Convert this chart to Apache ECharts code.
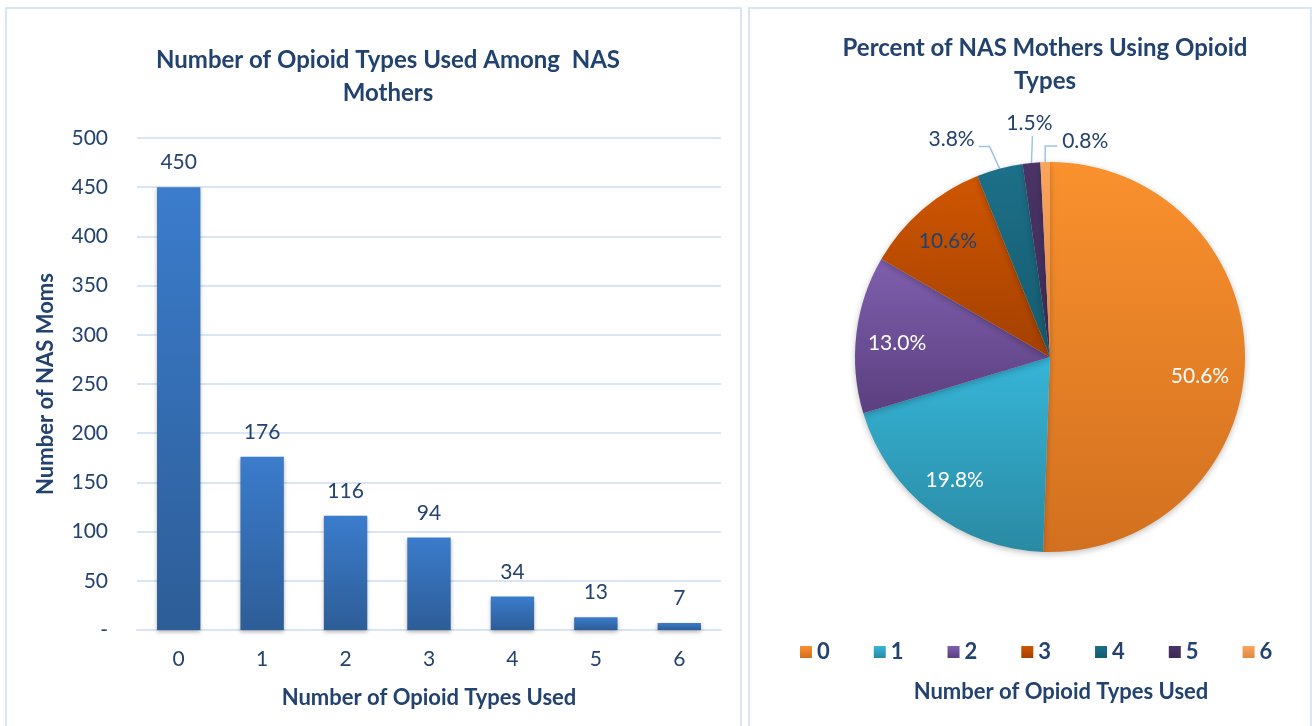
<!DOCTYPE html>
<html>
<head>
<meta charset="utf-8">
<script src="https://cdn.jsdelivr.net/npm/echarts@6/dist/echarts.min.js"></script>
<style>
html,body{margin:0;padding:0;background:#fff;}
#c{width:1312px;height:726px;}
</style>
</head>
<body>
<div id="c"></div>
<script>
// ---- data ----
const categories = ['0', '1', '2', '3', '4', '5', '6'];
const counts = [450, 176, 116, 94, 34, 13, 7];
const barTitle = 'Number of Opioid Types Used Among  NAS\nMothers';
const pieTitle = 'Percent of NAS Mothers Using Opioid\nTypes';
const xName = 'Number of Opioid Types Used';
const yName = 'Number of NAS Moms';
const pieColorsTop = ['#fa912e', '#36b5d8', '#7f5fae', '#cf5600', '#1c7089', '#4a3468', '#fba45c'];
const pieColorsBottom = ['#d2701f', '#2a8aa3', '#5b3f7f', '#a34000', '#165a6d', '#3d2a55', '#de8a45'];
const insideLabelColors = ['#ffffff', '#ffffff', '#ffffff', '#22426f'];

const NAVY = '#22426f';
const FONT = 'Lato, "Open Sans", sans-serif';
const GRID_LINE = '#d9e4f4';

function grad(top, bottom) {
  return new echarts.graphic.LinearGradient(0, 0, 0, 1, [
    { offset: 0, color: top }, { offset: 1, color: bottom }
  ]);
}

const pieCenter = [1050, 357];
const pieR = 195;

// label offsets (relative to slice edge point) for the small outside slices
const outsideStyle = {
  4: { line: [[-10, -22], [-21, -22]], text: [-25, -29], align: 'right' },
  5: { line: [[1, -27], [1, -27]], text: [-2, -40], align: 'center' },
  6: { line: [[0, -16], [12, -16]], text: [17, -21], align: 'left' }
};
// small nudges of inside labels
const insideLabelOffsets = [[-6, 16], [0, 0], [2, 4], [0, 2]];

const pieData = categories.map((c, i) => ({
  name: c,
  value: counts[i],
  itemStyle: { color: grad(pieColorsTop[i], pieColorsBottom[i]) },
  label: { show: i >= 4 },
  labelLine: { show: i >= 4 }
}));

const pieLabelData = categories.map((c, i) => ({
  name: c,
  value: counts[i],
  label: { show: i < 4, color: insideLabelColors[i] || NAVY, offset: insideLabelOffsets[i] || [0, 0] }
}));

const chart = echarts.init(document.getElementById('c'), null, { renderer: 'canvas' });

const option = {
  backgroundColor: '#ffffff',
  animation: false,
  textStyle: { fontFamily: FONT },
  graphic: [
    { type: 'rect', shape: { x: 6, y: 8, width: 735, height: 740 }, style: { fill: 'none', stroke: GRID_LINE, lineWidth: 2 }, silent: true },
    { type: 'rect', shape: { x: 749, y: 8, width: 562, height: 740 }, style: { fill: 'none', stroke: GRID_LINE, lineWidth: 2 }, silent: true }
  ],
  title: [
    {
      text: barTitle, left: 383, top: 39, textAlign: 'center',
      textStyle: { fontFamily: FONT, fontSize: 24, fontWeight: 'bold', color: NAVY, lineHeight: 33 }
    },
    {
      text: pieTitle, left: 1040, top: 27, textAlign: 'center',
      textStyle: { fontFamily: FONT, fontSize: 24, fontWeight: 'bold', color: NAVY, lineHeight: 33 }
    },
    {
      text: xName, left: 1056, top: 676, textAlign: 'center',
      textStyle: { fontFamily: FONT, fontSize: 22, fontWeight: 'bold', color: NAVY }
    }
  ],
  legend: {
    data: categories,
    left: 795, top: 636,
    icon: 'rect', itemWidth: 12, itemHeight: 12, itemGap: 44,
    textStyle: { fontFamily: FONT, fontSize: 22, fontWeight: 'bold', color: NAVY, padding: [0, 0, 0, 0] }
  },
  grid: { left: 137, right: 591, top: 138, bottom: 96 },
  xAxis: {
    type: 'category',
    data: categories,
    axisLine: { lineStyle: { color: GRID_LINE, width: 2 } },
    axisTick: { show: false },
    axisLabel: { color: NAVY, fontSize: 21, margin: 19, fontFamily: FONT },
    name: xName, nameLocation: 'middle', nameGap: 57,
    nameTextStyle: { color: NAVY, fontSize: 22, fontWeight: 'bold', fontFamily: FONT }
  },
  yAxis: {
    type: 'value', min: 0, max: 500, interval: 50,
    axisLine: { show: false }, axisTick: { show: false },
    splitLine: { lineStyle: { color: GRID_LINE, width: 2 } },
    axisLabel: {
      color: NAVY, fontSize: 21, margin: 29, fontFamily: FONT,
      formatter: v => (v === 0 ? '-' : String(v))
    },
    name: yName, nameLocation: 'middle', nameGap: 80, nameRotate: 90,
    nameTextStyle: { color: NAVY, fontSize: 22, fontWeight: 'bold', fontFamily: FONT }
  },
  series: [
    {
      type: 'bar',
      data: counts,
      barWidth: '52%',
      itemStyle: {
        color: grad('#3b7ccc', '#2d5d97'),
        shadowColor: 'rgba(0,0,0,0.3)', shadowBlur: 4, shadowOffsetY: 2
      },
      label: { show: true, position: 'top', distance: 14, color: NAVY, fontSize: 21, fontFamily: FONT }
    },
    {
      type: 'pie',
      center: pieCenter,
      radius: [0, pieR],
      startAngle: 90,
      clockwise: true,
      avoidLabelOverlap: false,
      data: pieData,
      itemStyle: { shadowColor: 'rgba(0,0,0,0.25)', shadowBlur: 6, shadowOffsetY: 2 },
      label: {
        position: 'outside', color: NAVY, fontSize: 21, fontFamily: FONT,
        formatter: p => p.percent.toFixed(1) + '%'
      },
      labelLine: { show: true, lineStyle: { color: '#9dc3e6', width: 1.5 }, length: 20, length2: 10 },
      labelLayout: function (params) {
        const st = outsideStyle[params.dataIndex];
        if (!st) return {};
        if (!(params.labelLinePoints && params.labelLinePoints[0])) return {};
        const p0 = params.labelLinePoints[0];
        return {
          x: p0[0] + st.text[0],
          y: p0[1] + st.text[1],
          align: st.align,
          verticalAlign: 'middle',
          labelLinePoints: [
            [p0[0], p0[1]],
            [p0[0] + st.line[0][0], p0[1] + st.line[0][1]],
            [p0[0] + st.line[1][0], p0[1] + st.line[1][1]]
          ]
        };
      },
      emphasis: { disabled: true }
    },
    {
      type: 'pie',
      center: pieCenter,
      radius: [111, pieR],
      startAngle: 90,
      clockwise: true,
      silent: true,
      data: pieLabelData,
      itemStyle: { color: 'rgba(0,0,0,0)' },
      label: {
        position: 'inside', fontSize: 21, fontFamily: FONT,
        formatter: p => p.percent.toFixed(1) + '%'
      },
      labelLine: { show: false },
      emphasis: { disabled: true },
      tooltip: { show: false }
    }
  ]
};

chart.setOption(option);
</script>
</body>
</html>
